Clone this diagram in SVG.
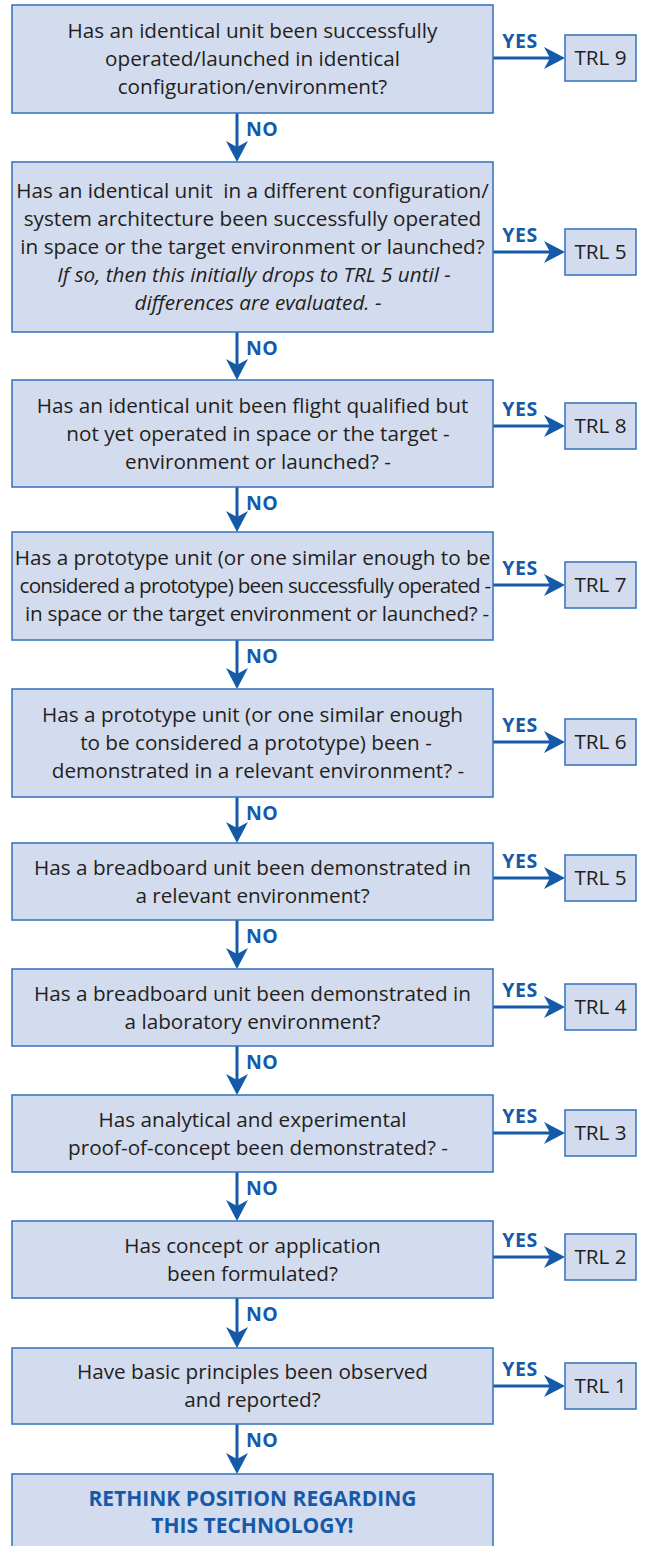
<svg xmlns="http://www.w3.org/2000/svg" width="645" height="1546" viewBox="0 0 645 1546">
<style>
.box{fill:#d3dbee;stroke:#3b78c0;stroke-width:1.6}
.q{font-family:"Open Sans","Liberation Sans",sans-serif;font-size:20.7px;fill:#231f20;text-anchor:middle}
.it{font-style:italic}
.trl{font-family:"Open Sans","Liberation Sans",sans-serif;font-size:20.7px;fill:#231f20;text-anchor:middle}
.lbl{font-family:"Open Sans","Liberation Sans",sans-serif;font-size:19.5px;font-weight:bold;fill:#155aa8;letter-spacing:0.5px}
.end{font-family:"Open Sans","Liberation Sans",sans-serif;font-size:21px;font-weight:bold;fill:#155aa8;text-anchor:middle}
.arr{stroke:#155aa8;stroke-width:3;fill:none;marker-end:url(#ah)}
</style>
<defs>
<marker id="ah" markerUnits="userSpaceOnUse" markerWidth="21" markerHeight="22" refX="6" refY="11" orient="auto" viewBox="0 0 21 22">
<path d="M0,0 L21,11 L0,22 L6,11 Z" fill="#155aa8"/>
</marker>
</defs>
<rect width="645" height="1546" fill="#ffffff"/>

<g id="connectors">
<path class="arr" d="M493,58 H550"/>
<path class="arr" d="M493,252 H550"/>
<path class="arr" d="M493,426 H550"/>
<path class="arr" d="M493,585 H550"/>
<path class="arr" d="M493,742 H550"/>
<path class="arr" d="M493,878 H550"/>
<path class="arr" d="M493,1007 H550"/>
<path class="arr" d="M493,1133 H550"/>
<path class="arr" d="M493,1257 H550"/>
<path class="arr" d="M493,1386 H550"/>
<path class="arr" d="M237,113 V147"/>
<path class="arr" d="M237,332 V365"/>
<path class="arr" d="M237,487 V517"/>
<path class="arr" d="M237,640 V674"/>
<path class="arr" d="M237,797 V828"/>
<path class="arr" d="M237,920 V954"/>
<path class="arr" d="M237,1046 V1080"/>
<path class="arr" d="M237,1172 V1206"/>
<path class="arr" d="M237,1298 V1333"/>
<path class="arr" d="M237,1424 V1459"/>
<g class="lbl">
<text x="520" y="48" text-anchor="middle">YES</text>
<text x="520" y="242" text-anchor="middle">YES</text>
<text x="520" y="416" text-anchor="middle">YES</text>
<text x="520" y="575" text-anchor="middle">YES</text>
<text x="520" y="732" text-anchor="middle">YES</text>
<text x="520" y="868" text-anchor="middle">YES</text>
<text x="520" y="997" text-anchor="middle">YES</text>
<text x="520" y="1123" text-anchor="middle">YES</text>
<text x="520" y="1247" text-anchor="middle">YES</text>
<text x="520" y="1376" text-anchor="middle">YES</text>
<text x="246" y="136">NO</text>
<text x="246" y="355">NO</text>
<text x="246" y="510">NO</text>
<text x="246" y="663">NO</text>
<text x="246" y="820">NO</text>
<text x="246" y="943">NO</text>
<text x="246" y="1069">NO</text>
<text x="246" y="1195">NO</text>
<text x="246" y="1321">NO</text>
<text x="246" y="1447">NO</text>
</g>
</g>

<g id="q1">
<rect class="box" x="12" y="5" width="481" height="108"/>
<text class="q" x="252.5" y="38">Has an identical unit been successfully</text>
<text class="q" x="252.5" y="66">operated/launched in identical</text>
<text class="q" x="252.5" y="94">configuration/environment?</text>
</g>
<g id="trl9">
<rect class="box" x="565" y="35" width="71" height="46"/>
<text class="trl" x="600.5" y="65">TRL 9</text>
</g>

<g id="q2">
<rect class="box" x="12" y="162" width="481" height="170"/>
<text class="q" x="252.5" y="198" style="white-space:pre">Has an identical unit  in a different configuration/</text>
<text class="q" x="252.5" y="226">system architecture been successfully operated</text>
<text class="q" x="252.5" y="254">in space or the target environment or launched?</text>
<text class="q it" x="254" y="282">If so, then this initially drops to TRL 5 until -</text>
<text class="q it" x="258" y="310">differences are evaluated. -</text>
</g>
<g id="trl5a">
<rect class="box" x="565" y="229" width="71" height="46"/>
<text class="trl" x="600.5" y="259">TRL 5</text>
</g>

<g id="q3">
<rect class="box" x="12" y="380" width="481" height="107"/>
<text class="q" x="252.5" y="412.5">Has an identical unit been flight qualified but</text>
<text class="q" x="258" y="440.5">not yet operated in space or the target -</text>
<text class="q" x="258" y="468.5">environment or launched? -</text>
</g>
<g id="trl8">
<rect class="box" x="565" y="403" width="71" height="46"/>
<text class="trl" x="600.5" y="433">TRL 8</text>
</g>

<g id="q4">
<rect class="box" x="12" y="532" width="481" height="108"/>
<text class="q" x="252.5" y="565">Has a prototype unit (or one similar enough to be</text>
<text class="q" x="255" y="593" style="letter-spacing:-0.75px">considered a prototype) been successfully operated -</text>
<text class="q" x="257" y="621" style="letter-spacing:-0.25px">in space or the target environment or launched? -</text>
</g>
<g id="trl7">
<rect class="box" x="565" y="562" width="71" height="46"/>
<text class="trl" x="600.5" y="592">TRL 7</text>
</g>

<g id="q5">
<rect class="box" x="12" y="689" width="481" height="108"/>
<text class="q" x="252.5" y="722">Has a prototype unit (or one similar enough</text>
<text class="q" x="256" y="750">to be considered a prototype) been -</text>
<text class="q" x="258" y="778">demonstrated in a relevant environment? -</text>
</g>
<g id="trl6">
<rect class="box" x="565" y="719" width="71" height="46"/>
<text class="trl" x="600.5" y="749">TRL 6</text>
</g>

<g id="q6">
<rect class="box" x="12" y="843" width="481" height="77"/>
<text class="q" x="252.5" y="874.5">Has a breadboard unit been demonstrated in</text>
<text class="q" x="252.5" y="902.5">a relevant environment?</text>
</g>
<g id="trl5b">
<rect class="box" x="565" y="855" width="71" height="46"/>
<text class="trl" x="600.5" y="885">TRL 5</text>
</g>

<g id="q7">
<rect class="box" x="12" y="969" width="481" height="77"/>
<text class="q" x="252.5" y="1000.5">Has a breadboard unit been demonstrated in</text>
<text class="q" x="252.5" y="1028.5">a laboratory environment?</text>
</g>
<g id="trl4">
<rect class="box" x="565" y="984" width="71" height="46"/>
<text class="trl" x="600.5" y="1014">TRL 4</text>
</g>

<g id="q8">
<rect class="box" x="12" y="1095" width="481" height="77"/>
<text class="q" x="252.5" y="1126.5">Has analytical and experimental</text>
<text class="q" x="258" y="1154.5">proof-of-concept been demonstrated? -</text>
</g>
<g id="trl3">
<rect class="box" x="565" y="1110" width="71" height="46"/>
<text class="trl" x="600.5" y="1140">TRL 3</text>
</g>

<g id="q9">
<rect class="box" x="12" y="1221" width="481" height="77"/>
<text class="q" x="252.5" y="1252.5">Has concept or application</text>
<text class="q" x="252.5" y="1280.5">been formulated?</text>
</g>
<g id="trl2">
<rect class="box" x="565" y="1234" width="71" height="46"/>
<text class="trl" x="600.5" y="1264">TRL 2</text>
</g>

<g id="q10">
<rect class="box" x="12" y="1348" width="481" height="76"/>
<text class="q" x="252.5" y="1379">Have basic principles been observed</text>
<text class="q" x="252.5" y="1407">and reported?</text>
</g>
<g id="trl1">
<rect class="box" x="565" y="1363" width="71" height="46"/>
<text class="trl" x="600.5" y="1393">TRL 1</text>
</g>

<g id="rethink">
<rect class="box" x="12" y="1474" width="481" height="80"/>
<text class="end" x="252.5" y="1506">RETHINK POSITION REGARDING</text>
<text class="end" x="252.5" y="1533">THIS TECHNOLOGY!</text>
</g>
</svg>
